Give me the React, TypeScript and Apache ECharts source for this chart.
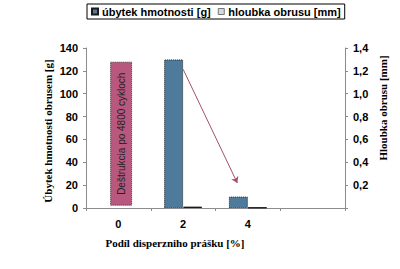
import React, { useEffect, useRef } from "react";
import * as echarts from "echarts";

const categories = ["0", "2", "4", ""];
const lossGrams: (number | null)[] = [null, 130, 10, null];
const depthMm: (number | null)[] = [null, 0.012, 0.004, null];
const destructionBase: (number | null)[] = [2, null, null, null];
const destructionBar: (number | null)[] = [126, null, null, null];
const arrowStart = [1.5, 1.214];
const arrowEnd = [2.337, 0.219];
const leftTicks = { min: 0, max: 140, interval: 20 };
const rightTicks = { min: 0, max: 1.4, interval: 0.2 };

const SANS = "'Liberation Sans', Arial, sans-serif";
const SERIF = "'Liberation Serif', 'Times New Roman', serif";

export default function App() {
  const ref = useRef<HTMLDivElement>(null);
  useEffect(() => {
    if (!ref.current) return;
    const chart = echarts.init(ref.current, undefined, { renderer: "svg" });
    const axisLine = { show: true, lineStyle: { color: "#8c8c8c", width: 1 } };
    const labelStyle = { fontFamily: SANS, fontWeight: "bold" as const, fontSize: 11, color: "#000" };
    chart.setOption({
      animation: false,
      backgroundColor: "#fff",
      grid: { left: 86, right: 55, top: 48, bottom: 61, containLabel: false },
      legend: {
        data: [
          { name: "úbytek hmotnosti [g]" },
          { name: "hloubka obrusu [mm]", itemStyle: { color: "#d3dae1", borderColor: "#777", borderWidth: 1 } },
        ],
        left: 87,
        top: 4,
        itemWidth: 6,
        itemHeight: 6,
        itemGap: 7,
        padding: [2, 4, 2, 4],
        borderColor: "#000",
        borderWidth: 1,
        icon: "rect",
        textStyle: { fontFamily: SANS, fontWeight: "bold", fontSize: 11, color: "#000", padding: [0, 0, 0, -1] },
      },
      xAxis: [
        {
          type: "category",
          data: categories,
          boundaryGap: true,
          axisLine,
          axisTick: { show: true, interval: 0, length: 3, lineStyle: { color: "#8c8c8c" } },
          axisLabel: { ...labelStyle, margin: 10, interval: 0 },
        },
        { type: "category", data: categories, show: false },
        { type: "value", min: 0, max: 4, show: false },
      ],
      yAxis: [
        {
          type: "value",
          position: "left",
          ...leftTicks,
          axisLine,
          axisTick: { show: true, length: 3, lineStyle: { color: "#8c8c8c" } },
          axisLabel: { ...labelStyle, margin: 8 },
          splitLine: { show: false },
        },
        {
          type: "value",
          position: "right",
          ...rightTicks,
          axisLine,
          axisTick: { show: true, length: 3, lineStyle: { color: "#8c8c8c" } },
          axisLabel: {
            ...labelStyle,
            margin: 8,
            formatter: (v: number) => (v === 0 ? "" : v.toFixed(1).replace(".", ",")),
          },
          splitLine: { show: false },
        },
      ],
      series: [
        {
          name: "úbytek hmotnosti [g]",
          type: "bar",
          xAxisIndex: 0,
          yAxisIndex: 0,
          data: lossGrams,
          barWidth: 19,
          barGap: 0,
          itemStyle: { color: "#4e7b9b", borderColor: "#1a1a1a", borderWidth: 1, borderType: "dotted" },
        },
        {
          name: "hloubka obrusu [mm]",
          type: "bar",
          xAxisIndex: 0,
          yAxisIndex: 1,
          data: depthMm,
          barWidth: 19,
          barGap: 0,
          itemStyle: { color: "#c9d3dc", borderColor: "#1a1a1a", borderWidth: 1 },
        },
        {
          name: "_slot",
          type: "bar",
          xAxisIndex: 1,
          yAxisIndex: 0,
          stack: "slot",
          data: [null, null, null, null],
          barWidth: 22,
          barGap: "-75%",
        },
        {
          name: "_base",
          type: "bar",
          xAxisIndex: 1,
          yAxisIndex: 0,
          stack: "destr",
          data: destructionBase,
          barWidth: 22,
          barGap: "-75%",
          itemStyle: { color: "transparent" },
          silent: true,
        },
        {
          name: "_destr",
          type: "bar",
          xAxisIndex: 1,
          yAxisIndex: 0,
          stack: "destr",
          data: destructionBar,
          barWidth: 22,
          barGap: "-75%",
          itemStyle: { color: "#b9587f", borderColor: "#333", borderWidth: 1, borderType: "dotted" },
          label: {
            show: true,
            position: "inside",
            rotate: 90,
            formatter: "Deštrukcia po 4800 cykloch",
            fontFamily: SANS,
            fontSize: 10,
            color: "#222",
          },
        },
        {
          name: "_arrow",
          type: "line",
          xAxisIndex: 2,
          yAxisIndex: 1,
          data: [arrowStart, arrowEnd],
          showSymbol: false,
          lineStyle: { width: 0, opacity: 0 },
          silent: true,
          markLine: {
            silent: true,
            symbol: ["none", "arrow"],
            symbolSize: 6,
            label: { show: false },
            lineStyle: { color: "#a3506f", width: 1, type: "solid" },
            data: [[{ coord: arrowStart }, { coord: arrowEnd }]],
          },
        },
      ],
      graphic: [
        {
          type: "text",
          x: 48,
          y: 131,
          rotation: Math.PI / 2,
          style: {
            text: "Úbytek hmotnosti obrusem [g]",
            font: `bold 11px ${SERIF}`,
            fill: "#000",
            textAlign: "center",
            textVerticalAlign: "middle",
          },
        },
        {
          type: "text",
          x: 383,
          y: 108,
          rotation: Math.PI / 2,
          style: {
            text: "Hloubka obrusu [mm]",
            font: `bold 11px ${SERIF}`,
            fill: "#000",
            textAlign: "center",
            textVerticalAlign: "middle",
          },
        },
        {
          type: "text",
          x: 175,
          y: 243,
          style: {
            text: "Podíl disperzniho prášku [%]",
            font: `bold 11px ${SERIF}`,
            fill: "#000",
            textAlign: "center",
            textVerticalAlign: "middle",
          },
        },
      ],
    });
    return () => chart.dispose();
  }, []);
  return (
    <div
      ref={ref}
      style={{ position: "fixed", left: 0, top: 0, width: 400, height: 269, background: "#fff" }}
    />
  );
}
